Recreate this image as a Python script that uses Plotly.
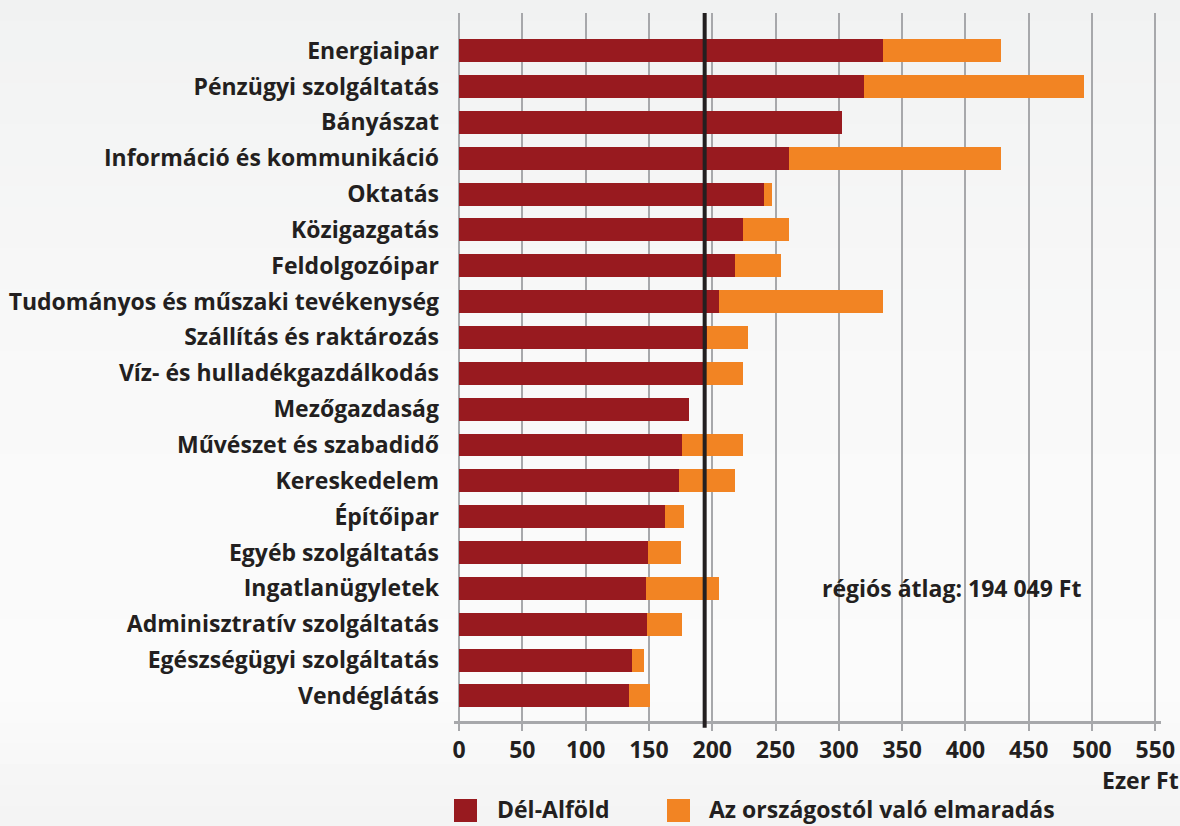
import plotly.graph_objects as go

# Ágazatok (felülről lefelé)
categories = [
    "Energiaipar",
    "Pénzügyi szolgáltatás",
    "Bányászat",
    "Információ és kommunikáció",
    "Oktatás",
    "Közigazgatás",
    "Feldolgozóipar",
    "Tudományos és műszaki tevékenység",
    "Szállítás és raktározás",
    "Víz- és hulladékgazdálkodás",
    "Mezőgazdaság",
    "Művészet és szabadidő",
    "Kereskedelem",
    "Építőipar",
    "Egyéb szolgáltatás",
    "Ingatlanügyletek",
    "Adminisztratív szolgáltatás",
    "Egészségügyi szolgáltatás",
    "Vendéglátás",
]

# Dél-Alföld átlagkereset, ezer Ft
del_alfold = [335, 320, 302.5, 261, 241, 224, 218, 205, 196, 193,
              182, 176, 174, 163, 149, 148, 148.5, 137, 134]

# Az országos átlagtól való elmaradás, ezer Ft
elmaradas = [93, 174, 0, 167, 6, 37, 36, 130, 32, 31,
             0, 48, 44, 15, 26, 57, 27.5, 9, 17]

regional_avg = 194.049  # ezer Ft
x_ticks = list(range(0, 551, 50))

RED = "#981a1f"
ORANGE = "#f28423"
DARK = "#231f20"
GRID = "#a7a8ab"
FONT = "Open Sans"
FSIZE = 23

fig = go.Figure()
fig.add_bar(y=categories, x=del_alfold, orientation="h", name="Dél-Alföld",
            marker=dict(color=RED, line=dict(width=0)))
fig.add_bar(y=categories, x=elmaradas, orientation="h",
            name="Az országostól való elmaradás",
            marker=dict(color=ORANGE, line=dict(width=0)))

# Soft vertical background gradient
stops = [(0.0, (241, 242, 242)), (0.45, (249, 249, 249)),
         (0.85, (251, 251, 251)), (1.0, (243, 243, 243))]


def shade(t):
    for (t0, c0), (t1, c1) in zip(stops, stops[1:]):
        if t0 <= t <= t1:
            f = (t - t0) / (t1 - t0)
            return "rgb(%d,%d,%d)" % tuple(round(a + (b - a) * f) for a, b in zip(c0, c1))
    return "rgb(%d,%d,%d)" % stops[-1][1]


W, H = 1180, 826
ML, MR, MT, MB = 454, 19, 13, 105
PW, PH = W - ML - MR, H - MT - MB


def px_x(px):
    return (px - ML) / PW


def px_y(py):
    return (H - MB - py) / PH


shapes = []
n = 40
for i in range(n):
    y0 = i * H / n
    y1 = (i + 1) * H / n + 1
    shapes.append(dict(type="rect", xref="paper", yref="paper",
                       x0=px_x(0), x1=px_x(W), y0=px_y(y1), y1=px_y(y0),
                       fillcolor=shade((i + 0.5) / n), line=dict(width=0),
                       layer="below"))

# Regional average line
shapes.append(dict(type="line", xref="x", yref="paper",
                   x0=regional_avg, x1=regional_avg, y0=-0.0095, y1=1,
                   line=dict(color=DARK, width=4), layer="above"))

# Legend swatches
legend_items = [("Dél-Alföld", RED, 454, 496),
                ("Az országostól való elmaradás", ORANGE, 667, 708)]
annotations = []
for label, color, sx, tx in legend_items:
    shapes.append(dict(type="rect", xref="paper", yref="paper",
                       x0=px_x(sx), x1=px_x(sx + 23),
                       y0=px_y(822), y1=px_y(799),
                       fillcolor=color, line=dict(width=0)))
    annotations.append(dict(xref="paper", yref="paper", x=px_x(tx), y=px_y(809),
                            xanchor="left", yanchor="middle", showarrow=False,
                            text=label, borderpad=0,
                            font=dict(family=FONT, size=FSIZE, color=DARK, weight="bold")))

annotations.append(dict(xref="paper", yref="paper", x=px_x(1180), y=px_y(780),
                        xanchor="right", yanchor="middle", showarrow=False,
                        text="Ezer Ft", borderpad=0,
                        font=dict(family=FONT, size=FSIZE, color=DARK, weight="bold")))

annotations.append(dict(xref="x", yref="y", x=285.5, y="Ingatlanügyletek",
                        xanchor="left", yanchor="middle", showarrow=False,
                        text="régiós átlag: 194 049 Ft",
                        font=dict(family=FONT, size=FSIZE, color=DARK, weight="bold")))

fig.update_layout(
    width=W, height=H,
    margin=dict(l=ML, r=MR, t=MT, b=MB, pad=0, autoexpand=False),
    barmode="stack", bargap=0.36,
    showlegend=False,
    paper_bgcolor="#f7f7f7", plot_bgcolor="rgba(0,0,0,0)",
    shapes=shapes, annotations=annotations,
    xaxis=dict(range=[-3.95, 554.5], tickvals=x_ticks, automargin=False,
               showgrid=True, gridcolor=GRID, gridwidth=2, zeroline=False,
               showline=True, linecolor=GRID, linewidth=2.5,
               ticks="outside", ticklen=7, tickwidth=2, tickcolor=GRID,
               tickfont=dict(family=FONT, size=FSIZE, color=DARK, weight="bold"),
               fixedrange=True),
    yaxis=dict(type="category", categoryorder="array", categoryarray=categories,
               range=[18.7, -1.05], showgrid=False, zeroline=False, automargin=False,
               showline=False, ticks="", ticklabelstandoff=14,
               tickfont=dict(family=FONT, size=FSIZE, color=DARK, weight="bold"),
               fixedrange=True),
)

fig.write_html("out.html")
